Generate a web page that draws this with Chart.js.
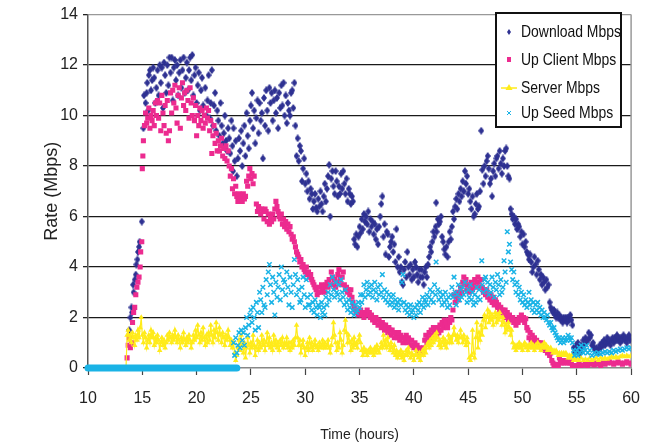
<!DOCTYPE html>
<html lang="en">
<head>
    <meta charset="UTF-8">
    <title>Rate over time</title>
    <style>
        body { margin: 0; background: #fff; }
        #wrap { width: 654px; height: 446px; }
    </style>
    <script src="https://cdn.jsdelivr.net/npm/chart.js"></script>
</head>
<body>
<div id="wrap"><canvas id="rateChart" width="654" height="446"></canvas></div>
<script>
    // tick labels
    const xTickValues = [10, 15, 20, 25, 30, 35, 40, 45, 50, 55, 60];
    const yTickValues = [0, 2, 4, 6, 8, 10, 12, 14];

    // [time (hours), rate (Mbps)]
    const download = [
        [13.8,1.5],[13.9,2.0],[14.0,2.4],[14.05,2.2],[14.15,3.3],[14.2,3.0],[14.3,3.5],[14.4,3.7],[14.45,4.1],[14.55,4.3],[14.6,4.6],[14.7,4.8],[14.75,5.0],[14.95,5.8],
        [15.1,9.5],[15.15,10.8],[15.3,10.5],[15.4,10.9],[15.45,11.3],[15.55,10.2],[15.6,11.6],[15.7,11.8],[15.8,11.0],[15.9,11.4],[16.0,11.9],[16.1,11.5],[16.2,10.5],[16.3,11.1],[16.4,11.8],[16.5,10.8],[16.6,12.0],[16.7,11.3],[16.8,11.9],[16.9,10.3],
        [17.0,12.1],[17.1,11.6],[17.2,10.9],[17.3,12.0],[17.4,11.2],[17.5,12.3],[17.6,11.7],[17.7,12.3],[17.8,10.6],[17.9,11.9],[18.0,12.2],[18.1,11.4],[18.2,12.0],[18.3,10.8],[18.4,11.7],[18.5,12.2],[18.6,11.1],[18.7,11.8],[18.8,12.3],[18.9,10.9],
        [19.0,11.5],[19.1,12.1],[19.2,11.0],[19.3,11.8],[19.4,12.3],[19.5,11.4],[19.6,12.4],[19.7,10.8],[19.8,11.6],[19.9,11.9],[20.0,10.5],[20.1,11.2],[20.2,11.7],[20.3,10.2],[20.4,11.0],[20.5,11.5],[20.6,10.4],[20.8,11.1],[20.9,10.0],
        [21.0,10.6],[21.1,11.6],[21.2,9.9],[21.3,10.5],[21.4,11.8],[21.5,9.6],[21.6,10.4],[21.7,10.9],[21.8,9.4],[21.9,10.2],[22.0,9.8],[22.1,9.2],[22.2,10.5],[22.3,9.6],[22.4,8.9],[22.5,9.3],[22.6,10.0],[22.7,9.0],[22.8,8.6],[22.9,9.5],
        [23.0,9.1],[23.1,8.5],[23.2,9.8],[23.3,8.8],[23.35,7.8],[23.4,9.5],[23.5,8.2],[23.6,9.0],[23.7,7.6],[23.8,8.3],[23.9,9.1],[24.0,8.6],[24.1,9.4],[24.2,8.0],[24.3,8.9],[24.4,9.6],[24.5,8.4],[24.6,10.1],[24.7,9.2],[24.8,8.7],[24.9,9.8],
        [25.0,10.4],[25.1,10.9],[25.2,9.5],[25.3,10.2],[25.4,8.9],[25.5,9.9],[25.6,10.6],[25.7,9.3],[25.8,10.5],[25.9,9.8],[26.0,10.1],[26.1,8.3],[26.2,10.7],[26.3,9.6],[26.4,11.0],[26.5,10.2],[26.6,9.4],[26.7,11.1],[26.8,10.5],[26.9,10.9],
        [27.0,9.8],[27.1,10.6],[27.2,11.0],[27.3,10.1],[27.4,10.7],[27.5,9.5],[27.6,10.9],[27.7,10.3],[27.8,11.2],[27.9,10.4],[28.0,11.3],[28.1,10.0],[28.2,10.8],[28.3,9.7],[28.4,10.5],[28.5,10.2],[28.6,10.0],[28.7,10.9],[28.8,11.0],[28.9,10.3],
        [29.0,11.3],[29.1,9.6],[29.2,8.4],[29.3,9.1],[29.4,8.2],[29.5,8.8],[29.6,8.6],[29.7,7.4],[29.8,7.9],[29.9,8.3],[30.0,7.3],[30.1,7.7],[30.2,7.0],[30.3,7.4],[30.4,6.7],[30.5,7.1],[30.6,6.9],[30.7,6.3],[30.8,6.6],[30.9,6.9],
        [31.0,6.35],[31.1,6.2],[31.2,6.7],[31.3,6.4],[31.4,7.0],[31.5,6.5],[31.6,6.2],[31.7,6.8],[31.8,7.3],[31.9,6.6],[32.0,7.1],[32.1,7.6],[32.2,8.05],[32.3,6.0],[32.4,7.5],[32.5,7.8],[32.6,7.2],[32.7,6.9],[32.8,7.8],[32.9,7.4],
        [33.0,6.8],[33.1,7.2],[33.2,6.9],[33.3,7.7],[33.4,7.1],[33.5,7.8],[33.6,7.3],[33.7,6.9],[33.8,7.5],[33.9,6.6],[34.0,7.1],[34.1,6.9],[34.2,6.5],[34.3,6.8],[34.4,6.6],[34.5,5.1],[34.6,4.9],[34.7,5.3],[34.8,4.8],[34.9,5.2],
        [35.0,5.6],[35.1,5.35],[35.2,5.9],[35.3,5.5],[35.4,6.1],[35.5,5.8],[35.6,6.0],[35.7,5.7],[35.8,6.2],[35.9,5.4],[36.0,5.9],[36.1,5.6],[36.2,5.8],[36.3,5.3],[36.4,5.7],[36.5,5.1],[36.6,5.5],[36.7,4.9],[36.8,5.6],[36.9,6.0],
        [37.0,6.5],[37.1,6.8],[37.2,5.2],[37.3,5.7],[37.4,4.5],[37.5,5.4],[37.6,5.3],[37.7,4.4],[37.8,4.8],[37.9,5.0],[38.0,5.2],[38.1,4.6],[38.2,4.9],[38.3,4.2],[38.4,5.5],[38.5,4.0],[38.6,4.4],[38.7,3.8],[38.8,4.0],[38.9,3.4],
        [39.0,3.3],[39.1,3.9],[39.2,4.2],[39.3,3.6],[39.4,4.6],[39.5,4.0],[39.6,3.7],[39.7,4.1],[39.8,3.5],[39.9,3.9],[40.0,3.6],[40.1,4.2],[40.2,4.0],[40.3,3.7],[40.4,3.4],[40.5,3.9],[40.6,3.6],[40.7,3.9],[40.8,3.6],[40.9,3.3],
        [41.0,3.8],[41.1,4.0],[41.2,3.6],[41.3,4.1],[41.4,4.4],[41.5,4.8],[41.6,4.6],[41.7,5.0],[41.8,5.4],[41.9,5.2],[42.0,5.6],[42.05,6.55],[42.1,5.4],[42.2,5.9],[42.3,5.7],[42.4,5.8],[42.5,6.0],[42.6,5.2],[42.7,5.0],[42.8,4.7],[42.9,4.5],
        [43.0,4.8],[43.1,4.4],[43.2,5.0],[43.3,5.4],[43.4,5.1],[43.5,5.6],[43.6,6.2],[43.7,5.9],[43.8,6.4],[43.9,6.7],[44.0,6.3],[44.1,6.9],[44.2,6.6],[44.3,7.1],[44.4,6.8],[44.5,7.4],[44.6,7.0],[44.7,7.8],[44.8,7.3],[44.9,7.6],
        [45.0,6.9],[45.1,7.1],[45.2,6.6],[45.3,6.3],[45.4,6.8],[45.5,6.0],[45.6,6.1],[45.7,6.5],[45.8,6.9],[45.9,6.3],[46.0,6.4],[46.1,7.0],[46.2,9.4],[46.3,7.85],[46.4,7.3],[46.5,8.0],[46.6,7.6],[46.7,8.2],[46.8,8.4],[46.9,7.9],
        [47.0,7.3],[47.1,7.5],[47.2,6.8],[47.3,7.8],[47.4,8.1],[47.5,7.6],[47.6,8.3],[47.7,8.4],[47.8,7.9],[47.9,8.6],[48.0,8.1],[48.1,7.7],[48.2,8.3],[48.3,8.0],[48.4,8.6],[48.5,8.7],[48.6,8.0],[48.7,7.6],[48.8,7.5],[48.9,6.3],
        [49.0,6.1],[49.1,5.9],[49.2,6.0],[49.3,5.7],[49.4,5.9],[49.5,5.5],[49.6,5.7],[49.7,5.6],[49.8,5.2],[49.9,5.4],[50.0,4.9],[50.1,5.3],[50.2,4.8],[50.3,5.0],[50.4,4.6],[50.5,4.5],[50.6,4.3],[50.7,4.5],[50.8,4.2],[50.9,3.8],
        [51.0,4.0],[51.1,4.4],[51.2,4.1],[51.3,3.7],[51.4,4.25],[51.5,3.9],[51.6,3.5],[51.7,3.7],[51.8,3.3],[51.9,3.6],[52.0,3.4],[52.1,3.1],[52.2,3.5],[52.3,3.2],[52.4,3.3],[52.5,2.6],[52.6,2.4],[52.7,2.3],[52.8,2.2],[52.9,2.3],
        [53.0,2.1],[53.1,2.0],[53.2,2.2],[53.3,2.0],[53.4,2.1],[53.5,1.9],[53.6,2.0],[53.7,1.8],[53.8,2.0],[53.9,1.9],[54.0,2.0],[54.1,1.8],[54.2,2.0],[54.3,1.9],[54.4,2.1],[54.5,1.9],[54.6,1.7],[54.7,0.8],[54.8,0.6],[54.9,0.9],
        [55.0,0.7],[55.1,1.0],[55.2,0.8],[55.3,0.6],[55.4,0.9],[55.5,0.8],[55.6,1.1],[55.7,0.9],[55.8,1.2],[55.9,1.0],[56.0,1.1],[56.1,1.4],[56.2,1.2],[56.3,1.3],[56.4,0.9],[56.5,1.0],[56.6,0.8],[56.7,0.7],[56.8,0.8],[56.9,0.6],
        [57.0,0.7],[57.1,0.9],[57.2,0.8],[57.3,1.0],[57.4,0.9],[57.5,1.1],[57.6,0.9],[57.7,1.0],[57.8,1.2],[57.9,1.0],[58.0,1.1],[58.1,0.9],[58.2,1.1],[58.3,1.2],[58.4,1.0],[58.5,1.2],[58.6,1.1],[58.7,1.3],[58.8,1.1],[58.9,1.2],
        [59.0,1.0],[59.1,1.2],[59.2,1.1],[59.3,1.3],[59.4,1.1],[59.5,1.2],[59.6,1.0],[59.7,1.2],[59.8,1.3],[59.9,1.1],[60.0,1.2]
    ];

    const upClient = [
        [13.6,0.4],[13.7,0.9],[13.8,1.2],[13.9,0.8],[14.0,1.0],[14.1,1.8],[14.2,2.2],[14.3,2.4],[14.4,2.9],[14.5,3.2],[14.6,3.4],[14.7,3.6],[14.8,4.0],[14.85,4.6],[14.95,5.0],
        [15.0,7.9],[15.05,8.4],[15.1,9.0],[15.2,9.6],[15.3,10.1],[15.4,9.7],[15.5,9.9],[15.6,10.3],[15.7,9.5],[15.8,10.0],[15.9,9.8],[16.0,10.2],[16.1,9.6],[16.2,10.5],[16.3,10.0],[16.4,10.6],[16.5,9.9],[16.6,10.5],[16.7,9.4],[16.8,10.8],[16.9,10.1],
        [17.0,9.6],[17.1,10.4],[17.2,9.3],[17.3,10.6],[17.4,9.0],[17.5,9.4],[17.6,10.9],[17.7,10.1],[17.8,11.0],[17.9,10.5],[18.0,11.2],[18.1,10.3],[18.2,9.7],[18.3,10.8],[18.4,11.1],[18.5,9.5],[18.6,10.7],[18.7,11.3],[18.8,10.4],[18.9,10.9],
        [19.0,10.2],[19.1,11.0],[19.2,10.6],[19.3,9.9],[19.4,11.1],[19.5,10.5],[19.6,10.0],[19.7,10.7],[19.8,9.8],[19.9,10.4],[20.0,9.2],[20.1,10.0],[20.2,9.6],[20.3,10.3],[20.4,9.8],[20.5,10.2],[20.6,9.5],[20.7,10.0],[20.8,9.7],[20.9,10.3],
        [21.0,9.9],[21.1,10.2],[21.2,9.4],[21.3,9.8],[21.4,8.5],[21.5,9.2],[21.6,9.6],[21.7,8.9],[21.8,9.3],[21.9,8.6],[22.0,9.0],[22.1,8.6],[22.2,8.8],[22.3,9.1],[22.4,8.4],[22.5,8.7],[22.6,8.3],[22.7,8.8],[22.8,8.2],[22.9,8.6],
        [23.0,8.0],[23.1,7.6],[23.2,7.9],[23.3,7.1],[23.4,7.5],[23.5,6.9],[23.6,7.2],[23.7,6.8],[23.8,6.6],[23.9,6.9],[24.0,6.7],[24.1,6.8],[24.2,6.6],[24.3,6.9],[24.4,6.7],[24.5,6.8],[24.6,7.4],[24.7,7.2],[24.8,7.6],[24.9,7.9],
        [25.0,7.5],[25.1,7.7],[25.2,7.3],[25.3,7.6],[25.5,6.5],[25.6,6.2],[25.7,6.4],[25.8,6.3],[25.9,6.1],[26.0,6.3],[26.1,6.2],[26.2,5.9],[26.3,6.3],[26.4,6.2],[26.5,5.8],[26.6,6.1],[26.7,5.7],[26.8,6.0],[26.9,5.8],
        [27.0,6.1],[27.1,5.9],[27.2,6.3],[27.3,6.6],[27.4,6.4],[27.5,6.2],[27.6,6.0],[27.7,5.9],[27.8,6.1],[27.9,5.7],[28.0,5.9],[28.1,5.6],[28.2,5.8],[28.3,5.5],[28.4,5.7],[28.5,5.4],[28.6,5.6],[28.7,5.3],[28.8,5.1],[28.9,5.2],
        [29.0,5.0],[29.1,4.8],[29.2,4.6],[29.3,4.5],[29.4,4.4],[29.5,4.2],[29.6,4.3],[29.7,4.0],[29.8,4.1],[29.9,3.9],[30.0,3.8],[30.1,4.0],[30.2,3.7],[30.3,3.8],[30.4,3.6],[30.5,3.7],[30.6,3.5],[30.7,3.4],[30.8,3.3],[30.9,3.2],
        [31.0,3.1],[31.1,2.9],[31.2,3.0],[31.3,3.2],[31.4,3.0],[31.5,3.3],[31.6,3.1],[31.7,3.2],[31.8,3.0],[31.9,3.3],[32.0,3.4],[32.1,3.2],[32.2,3.5],[32.3,3.3],[32.4,3.8],[32.5,3.6],[32.6,3.3],[32.7,3.5],[32.8,3.2],[32.9,3.4],
        [33.0,3.7],[33.1,3.9],[33.2,3.5],[33.3,3.3],[33.4,3.6],[33.5,3.8],[33.6,3.3],[33.7,3.1],[33.8,3.2],[33.9,3.0],[34.0,3.1],[34.1,2.9],[34.2,3.1],[34.3,2.8],[34.4,2.6],[34.5,2.4],[34.6,2.3],[34.7,2.2],[34.8,2.3],[34.9,2.1],
        [35.0,2.2],[35.1,2.3],[35.2,2.1],[35.3,2.2],[35.4,2.0],[35.5,2.2],[35.6,2.1],[35.7,2.3],[35.8,2.1],[35.9,2.2],[36.0,2.0],[36.1,2.1],[36.2,1.9],[36.3,2.0],[36.4,1.8],[36.5,2.0],[36.6,1.9],[36.7,1.7],[36.8,1.9],[36.9,1.8],
        [37.0,1.6],[37.1,1.8],[37.2,1.7],[37.3,1.5],[37.4,1.7],[37.5,1.6],[37.6,1.4],[37.7,1.6],[37.8,1.5],[37.9,1.3],[38.0,1.5],[38.1,1.4],[38.2,1.2],[38.3,1.4],[38.4,1.3],[38.5,1.2],[38.6,1.4],[38.7,1.1],[38.8,1.3],[38.9,1.2],
        [39.0,1.0],[39.1,1.2],[39.2,1.1],[39.3,1.3],[39.4,1.0],[39.5,1.2],[39.6,1.1],[39.7,0.9],[39.8,1.1],[39.9,0.9],[40.0,0.8],[40.1,1.0],[40.2,0.8],[40.3,0.9],[40.4,0.7],[40.5,0.8],[40.6,0.6],[40.7,0.7],[40.8,0.6],[40.9,0.8],
        [41.0,1.1],[41.1,1.3],[41.2,1.0],[41.3,1.2],[41.4,1.4],[41.5,1.2],[41.6,1.5],[41.7,1.3],[41.8,1.6],[41.9,1.4],[42.0,1.5],[42.1,1.3],[42.2,1.6],[42.3,1.4],[42.4,1.7],[42.5,1.5],[42.6,1.8],[42.7,1.6],[42.8,1.9],[42.9,1.7],
        [43.0,1.8],[43.1,1.6],[43.2,1.9],[43.3,1.8],[43.4,2.0],[43.5,1.9],[43.6,2.3],[43.7,2.9],[43.8,2.6],[43.9,2.8],[44.0,3.0],[44.1,2.7],[44.2,2.9],[44.3,3.2],[44.4,3.0],[44.5,3.4],[44.6,3.6],[44.7,3.3],[44.8,3.5],[44.9,3.1],
        [45.0,3.3],[45.1,3.0],[45.2,3.2],[45.3,3.4],[45.4,3.1],[45.5,3.3],[45.6,3.5],[45.7,3.2],[45.8,3.4],[45.9,3.6],[46.0,3.4],[46.1,3.2],[46.2,3.5],[46.3,3.2],[46.4,3.0],[46.5,3.1],[46.6,2.9],[46.7,3.1],[46.8,2.8],[46.9,2.9],
        [47.0,2.7],[47.1,2.9],[47.2,2.6],[47.3,2.8],[47.4,2.5],[47.5,2.7],[47.6,2.6],[47.7,2.4],[47.8,2.5],[47.9,2.3],[48.0,2.4],[48.1,2.2],[48.2,2.3],[48.3,2.1],[48.4,2.3],[48.5,2.0],[48.6,2.2],[48.7,1.9],[48.8,2.1],[48.9,2.0],
        [49.0,1.9],[49.1,2.0],[49.2,1.8],[49.3,1.9],[49.4,1.7],[49.5,1.9],[49.6,1.8],[49.7,2.0],[49.8,1.9],[49.9,2.1],[50.0,1.9],[50.1,2.0],[50.2,1.8],[50.3,1.95],[50.4,1.6],[50.5,1.5],[50.6,1.2],[50.7,1.4],[50.8,1.1],[50.9,1.3],
        [51.0,1.0],[51.1,1.2],[51.2,1.0],[51.3,1.1],[51.4,0.9],[51.5,1.0],[51.6,0.9],[51.7,1.0],[51.8,0.8],[51.9,0.9],[52.0,0.8],[52.1,0.7],[52.2,0.8],[52.3,0.6],[52.4,0.7],[52.5,0.5],[52.6,0.6],[52.7,0.3],[52.8,0.2],[52.9,0.1],
        [53.0,0.1],[53.1,0.05],[53.2,0.15],[53.3,0.1],[53.4,0.4],[53.5,0.3],[53.6,0.2],[53.7,0.3],[53.8,0.2],[53.9,0.3],[54.0,0.25],[54.1,0.2],[54.2,0.3],[54.3,0.2],[54.4,0.3],[54.5,0.2],[54.6,0.05],[54.7,0.1],[54.8,0.05],
        [55.0,0.1],[55.2,0.15],[55.4,0.1],[55.6,0.12],[55.8,0.15],[56.0,0.1],[56.2,0.2],[56.4,0.15],[56.6,0.12],[56.8,0.2],[57.0,0.15],[57.2,0.1],[57.4,0.2],[57.6,0.15],[57.8,0.2],
        [58.0,0.25],[58.2,0.2],[58.4,0.15],[58.6,0.2],[58.8,0.25],[59.0,0.2],[59.2,0.15],[59.4,0.2],[59.6,0.25],[59.8,0.2],[60.0,0.15]
    ];

    const server = [
        [10.0,0],[13.5,0],[13.6,1.3],[13.7,1.5],[13.8,1.1],[13.9,1.3],[14.0,1.0],[14.1,1.4],[14.2,1.2],[14.3,0.9],[14.4,1.3],[14.5,1.1],[14.6,1.5],[14.7,1.2],[14.8,1.6],[14.9,2.0],
        [15.0,1.3],[15.1,1.0],[15.2,1.4],[15.3,1.2],[15.4,0.8],[15.5,1.1],[15.6,1.3],[15.7,1.0],[15.8,1.5],[15.9,1.2],[16.0,1.4],[16.1,0.9],[16.2,1.2],[16.3,1.0],[16.4,1.3],[16.5,1.1],[16.6,0.7],[16.7,1.0],[16.8,1.2],[16.9,0.9],
        [17.0,1.1],[17.1,0.8],[17.2,1.0],[17.3,1.3],[17.4,1.1],[17.5,1.4],[17.6,1.2],[17.7,1.0],[17.8,1.3],[17.9,1.1],[18.0,1.5],[18.1,1.2],[18.2,1.0],[18.3,1.3],[18.4,1.1],[18.5,0.8],[18.6,1.2],[18.7,1.0],[18.8,1.4],[18.9,1.1],
        [19.0,0.9],[19.1,1.2],[19.2,1.0],[19.3,1.3],[19.4,1.1],[19.5,0.8],[19.6,1.0],[19.7,1.3],[19.8,1.1],[19.9,1.5],[20.0,1.2],[20.1,1.7],[20.2,1.3],[20.3,1.0],[20.4,1.4],[20.5,1.1],[20.6,1.6],[20.7,1.2],[20.8,0.9],[20.9,1.3],
        [21.0,1.0],[21.1,1.4],[21.2,1.1],[21.3,1.7],[21.4,1.3],[21.5,1.0],[21.6,1.5],[21.7,1.2],[21.8,1.8],[21.9,1.4],[22.0,1.1],[22.1,1.6],[22.2,1.3],[22.3,1.0],[22.4,1.4],[22.5,1.2],[22.6,0.9],[22.7,1.3],[22.8,1.1],[22.9,1.5],
        [23.0,1.2],[23.1,0.9],[23.2,1.1],[23.3,0.8],[23.4,1.0],[23.5,0.6],[23.6,0.3],[23.7,0.5],[23.8,0.8],[23.9,1.1],[24.0,0.7],[24.1,1.3],[24.2,0.9],[24.3,0.6],[24.4,1.0],[24.5,0.4],[24.6,0.8],[24.7,1.2],[24.8,0.9],[24.9,0.6],
        [25.0,1.0],[25.1,0.8],[25.2,1.3],[25.3,0.9],[25.4,0.5],[25.5,0.8],[25.6,1.1],[25.7,0.7],[25.8,1.0],[25.9,0.8],[26.0,1.3],[26.1,0.9],[26.2,1.1],[26.3,0.7],[26.4,1.0],[26.5,1.4],[26.6,0.9],[26.7,1.2],[26.8,0.8],[26.9,1.0],
        [27.0,0.7],[27.1,1.3],[27.2,0.9],[27.3,1.1],[27.4,0.8],[27.5,1.0],[27.6,0.7],[27.7,1.1],[27.8,0.9],[27.9,1.2],[28.0,0.8],[28.1,1.0],[28.2,0.9],[28.3,1.2],[28.4,0.8],[28.5,1.0],[28.6,0.7],[28.7,1.0],[28.8,0.8],[28.9,1.1],
        [29.0,0.9],[29.1,1.2],[29.2,1.7],[29.3,1.2],[29.4,0.9],[29.5,1.1],[29.6,0.6],[29.7,0.9],[29.8,1.1],[29.9,0.8],[30.0,0.5],[30.1,0.8],[30.2,1.0],[30.3,0.7],[30.4,1.2],[30.5,0.8],[30.6,1.0],[30.7,0.7],[30.8,0.9],[30.9,1.1],
        [31.0,0.8],[31.1,0.9],[31.2,0.7],[31.3,1.0],[31.4,0.8],[31.5,0.9],[31.6,1.1],[31.7,0.8],[31.8,1.0],[31.9,0.8],[32.0,0.9],[32.1,1.1],[32.2,0.8],[32.3,0.6],[32.4,0.9],[32.5,1.2],[32.6,1.8],[32.7,1.3],[32.8,1.0],[32.9,0.7],
        [33.0,1.0],[33.1,0.8],[33.2,1.4],[33.3,1.1],[33.4,0.6],[33.5,0.9],[33.6,1.5],[33.7,1.9],[33.8,1.4],[33.9,1.0],[34.0,1.3],[34.1,1.0],[34.2,0.7],[34.3,1.1],[34.4,0.8],[34.5,1.2],[34.6,0.9],[34.7,1.0],[34.8,0.8],[34.9,1.1],
        [35.0,1.3],[35.1,1.0],[35.2,0.7],[35.3,0.5],[35.4,0.8],[35.5,0.6],[35.6,0.7],[35.7,0.5],[35.8,0.7],[35.9,0.6],[36.0,0.8],[36.1,0.6],[36.2,0.7],[36.3,0.5],[36.4,0.8],[36.5,0.6],[36.6,0.9],[36.7,0.7],[36.8,0.6],[36.9,0.8],
        [37.0,1.0],[37.1,0.8],[37.2,1.3],[37.3,0.9],[37.4,1.1],[37.5,0.8],[37.6,1.2],[37.7,0.9],[37.8,0.7],[37.9,1.0],[38.0,0.8],[38.1,0.6],[38.2,0.9],[38.3,0.5],[38.4,0.7],[38.5,0.4],[38.6,0.6],[38.7,0.5],[38.8,0.7],[38.9,0.4],
        [39.0,0.6],[39.1,0.3],[39.2,0.5],[39.3,0.7],[39.4,0.5],[39.5,0.8],[39.6,0.6],[39.7,0.4],[39.8,0.6],[39.9,0.5],[40.0,0.3],[40.1,0.5],[40.2,0.7],[40.3,0.5],[40.4,0.4],[40.5,0.6],[40.6,0.3],[40.7,0.5],[40.8,0.7],[40.9,0.5],
        [41.0,0.8],[41.1,0.6],[41.2,0.9],[41.3,1.0],[41.4,0.8],[41.5,1.1],[41.6,0.9],[41.7,1.2],[41.8,1.0],[41.9,1.3],[42.0,1.1],[42.1,1.4],[42.2,1.2],[42.3,0.9],[42.4,1.1],[42.5,0.8],[42.6,1.0],[42.7,1.2],[42.8,0.9],[42.9,1.1],
        [43.0,0.8],[43.1,1.0],[43.2,1.3],[43.3,1.0],[43.4,1.2],[43.5,1.0],[43.6,1.3],[43.7,1.6],[43.8,1.3],[43.9,1.1],[44.0,1.3],[44.1,1.0],[44.2,1.2],[44.3,1.5],[44.4,1.2],[44.5,1.0],[44.6,1.3],[44.7,1.1],[44.8,0.9],[44.9,1.2],
        [45.0,1.0],[45.1,0.4],[45.2,0.3],[45.3,0.5],[45.4,1.5],[45.5,0.6],[45.6,0.4],[45.7,1.2],[45.8,1.8],[45.9,0.8],[46.0,1.4],[46.1,1.1],[46.2,1.7],[46.3,1.3],[46.4,1.9],[46.5,2.1],[46.6,1.6],[46.7,2.0],[46.8,2.3],[46.9,1.8],
        [47.0,2.2],[47.1,1.9],[47.2,2.1],[47.3,1.7],[47.4,2.0],[47.5,2.2],[47.6,1.8],[47.7,2.1],[47.8,1.9],[47.9,2.2],[48.0,2.0],[48.1,1.7],[48.2,2.0],[48.3,1.8],[48.4,1.4],[48.5,1.7],[48.6,1.5],[48.7,1.8],[48.8,1.6],[48.9,1.3],
        [49.0,1.5],[49.1,1.0],[49.2,0.8],[49.3,0.9],[49.4,0.7],[49.5,0.9],[49.6,0.8],[49.7,1.0],[49.8,0.8],[49.9,0.9],[50.0,0.7],[50.1,0.9],[50.2,1.0],[50.3,0.8],[50.4,0.9],[50.5,0.7],[50.6,0.9],[50.7,0.8],[50.8,1.0],[50.9,0.8],
        [51.0,0.9],[51.1,0.7],[51.2,0.9],[51.3,0.8],[51.4,1.0],[51.5,0.8],[51.6,0.9],[51.7,0.7],[51.8,0.9],[51.9,0.8],[52.0,1.0],[52.1,0.8],[52.2,0.9],[52.3,0.7],[52.4,0.8],[52.5,0.7],[52.6,0.8],[52.7,0.7],[52.8,0.6],[52.9,0.7],
        [53.0,0.6],[53.1,0.7],[53.2,0.6],[53.3,0.5],[53.4,0.6],[53.5,0.5],[53.6,0.6],[53.7,0.5],[53.8,0.6],[53.9,0.5],[54.0,0.6],[54.1,0.5],[54.2,0.4],[54.3,0.5],[54.4,0.4],[54.5,0.5],[54.6,0.4],[54.7,0.3],[54.8,0.4],[54.9,0.3],
        [55.0,0.4],[55.2,0.3],[55.4,0.4],[55.6,0.3],[55.8,0.35],[56.0,0.3],[56.2,0.4],[56.4,0.3],[56.6,0.35],[56.8,0.4],[57.0,0.3],[57.2,0.4],[57.4,0.35],[57.6,0.4],[57.8,0.35],
        [58.0,0.4],[58.2,0.45],[58.4,0.4],[58.6,0.45],[58.8,0.4],[59.0,0.45],[59.2,0.5],[59.4,0.45],[59.6,0.5],[59.8,0.45],[60.0,0.5]
    ];

    // seed upload sits at zero until ~23.7 h
    const upSeedIdle = [[10.0,0],[23.7,0]];
    const upSeed = [
        [23.4,1.0],[23.5,0.5],[23.6,1.2],[23.7,0.6],[23.8,0.9],[23.9,1.4],[24.0,0.8],[24.1,1.5],[24.2,1.1],[24.3,1.4],[24.4,0.9],[24.5,1.6],[24.6,2.0],[24.7,1.3],[24.8,1.7],[24.9,2.1],
        [25.0,2.3],[25.1,1.8],[25.2,2.4],[25.3,2.0],[25.4,1.5],[25.5,2.6],[25.6,2.2],[25.7,1.6],[25.8,3.0],[25.9,2.7],[26.0,2.2],[26.1,3.2],[26.2,2.5],[26.3,2.4],[26.4,3.5],[26.5,2.9],[26.6,3.8],[26.7,4.1],[26.8,3.3],[26.9,2.6],
        [27.0,3.6],[27.1,3.0],[27.2,2.1],[27.3,3.4],[27.4,2.8],[27.5,3.2],[27.6,3.7],[27.7,2.7],[27.8,4.0],[27.9,3.1],[28.0,3.5],[28.1,3.4],[28.2,2.9],[28.3,3.8],[28.4,3.2],[28.5,2.5],[28.6,3.6],[28.7,3.0],[28.8,2.4],[28.9,3.3],
        [29.0,4.3],[29.1,3.7],[29.2,2.9],[29.3,3.5],[29.4,3.1],[29.5,2.6],[29.6,2.7],[29.7,3.2],[29.8,3.6],[29.9,2.9],[30.0,2.4],[30.1,3.5],[30.2,2.8],[30.3,2.5],[30.4,2.5],[30.5,2.9],[30.6,2.3],[30.7,2.6],[30.8,2.2],[30.9,2.7],
        [31.0,2.4],[31.1,2.1],[31.2,2.5],[31.3,2.4],[31.4,2.0],[31.5,2.6],[31.6,2.2],[31.7,2.4],[31.8,2.1],[31.9,2.8],[32.0,2.5],[32.1,3.0],[32.2,2.7],[32.3,3.3],[32.4,2.9],[32.5,3.6],[32.6,3.1],[32.7,2.8],[32.8,3.4],[32.9,3.0],
        [33.0,2.9],[33.1,3.3],[33.2,2.7],[33.3,3.5],[33.4,3.0],[33.5,2.8],[33.6,2.5],[33.7,3.1],[33.8,2.6],[33.9,2.3],[34.0,2.7],[34.1,2.4],[34.2,2.2],[34.3,2.6],[34.4,2.3],[34.5,2.1],[34.6,2.5],[34.7,2.2],[34.8,2.3],[34.9,2.6],
        [35.0,2.4],[35.1,2.9],[35.2,2.6],[35.3,2.9],[35.4,3.3],[35.5,2.8],[35.6,3.1],[35.7,3.4],[35.8,2.9],[35.9,3.2],[36.0,3.0],[36.1,3.3],[36.2,2.8],[36.3,3.1],[36.4,3.4],[36.5,3.0],[36.6,2.7],[36.7,3.2],[36.8,2.9],[36.9,3.3],
        [37.0,3.0],[37.1,3.7],[37.2,2.8],[37.3,3.1],[37.4,2.7],[37.5,3.0],[37.6,2.6],[37.7,2.9],[37.8,2.5],[37.9,2.8],[38.0,2.6],[38.1,2.9],[38.2,2.4],[38.3,2.7],[38.4,2.5],[38.5,2.6],[38.6,2.3],[38.7,2.7],[38.8,2.5],[38.9,3.4],
        [39.0,3.7],[39.1,2.6],[39.2,2.3],[39.3,2.5],[39.4,2.2],[39.5,2.4],[39.6,2.1],[39.7,2.5],[39.8,2.2],[39.9,2.3],[40.0,2.0],[40.1,2.4],[40.2,2.1],[40.3,2.5],[40.4,2.3],[40.5,2.6],[40.6,2.2],[40.7,2.5],[40.8,2.8],[40.9,2.4],
        [41.0,2.7],[41.1,2.6],[41.2,2.9],[41.3,2.5],[41.4,2.8],[41.5,3.1],[41.6,2.7],[41.7,3.0],[41.8,2.6],[41.9,3.3],[42.0,2.9],[42.05,4.2],[42.2,3.1],[42.3,2.7],[42.4,3.0],[42.5,2.8],[42.6,2.5],[42.7,2.9],[42.8,2.6],[42.9,3.0],
        [43.0,2.7],[43.1,2.4],[43.2,2.8],[43.3,2.5],[43.4,2.9],[43.5,3.2],[43.6,2.8],[43.7,3.6],[43.8,3.0],[43.9,2.5],[44.0,2.9],[44.1,3.3],[44.2,2.7],[44.3,3.1],[44.4,2.8],[44.5,3.2],[44.6,2.9],[44.7,3.4],[44.8,3.0],[44.9,2.6],
        [45.0,3.1],[45.1,2.8],[45.2,3.3],[45.3,2.7],[45.4,3.0],[45.5,2.5],[45.6,2.9],[45.7,2.6],[45.8,3.2],[45.9,2.8],[46.0,3.1],[46.1,2.7],[46.25,4.25],[46.3,3.3],[46.4,3.0],[46.5,3.5],[46.6,3.6],[46.7,3.1],[46.8,3.4],[46.9,2.9],
        [47.0,3.3],[47.1,3.0],[47.2,3.6],[47.3,3.2],[47.4,2.8],[47.5,3.4],[47.6,3.1],[47.7,3.7],[47.8,3.3],[47.9,2.9],[48.0,3.5],[48.1,3.0],[48.2,3.2],[48.3,4.25],[48.4,3.8],[48.5,3.4],[48.6,5.4],[48.7,4.6],[48.8,4.9],[48.9,4.2],
        [49.0,3.9],[49.1,3.5],[49.2,3.8],[49.3,3.3],[49.4,3.0],[49.5,3.4],[49.6,2.9],[49.7,3.2],[49.8,2.7],[49.9,3.0],[50.0,2.6],[50.1,2.9],[50.2,2.5],[50.3,2.7],[50.4,2.4],[50.5,2.6],[50.6,3.0],[50.7,2.5],[50.8,2.7],[50.9,2.3],
        [51.0,2.6],[51.1,2.2],[51.2,2.5],[51.3,2.3],[51.4,2.6],[51.5,2.2],[51.6,2.4],[51.7,2.1],[51.8,2.3],[51.9,2.0],[52.0,2.2],[52.1,2.0],[52.2,1.9],[52.3,2.1],[52.4,1.8],[52.5,1.7],[52.6,1.8],[52.7,1.6],[52.8,1.5],[52.9,1.6],
        [53.0,1.4],[53.1,1.3],[53.2,1.2],[53.3,1.1],[53.4,1.2],[53.5,1.0],[53.6,1.1],[53.7,1.2],[53.8,1.0],[53.9,1.1],[54.0,1.2],[54.1,1.1],[54.2,1.3],[54.3,1.2],[54.4,1.1],[54.5,1.2],[54.6,1.0],[54.7,0.7],[54.8,0.5],[54.9,0.6],
        [55.0,0.7],[55.1,0.5],[55.2,0.8],[55.3,0.6],[55.4,0.9],[55.5,0.7],[55.6,0.6],[55.7,0.8],[55.8,0.7],[55.9,0.9],[56.0,0.6],[56.2,0.7],[56.4,0.5],[56.6,0.6],[56.8,0.55],[57.0,0.6],[57.2,0.55],[57.4,0.6],[57.6,0.65],[57.8,0.6],
        [58.0,0.65],[58.2,0.6],[58.4,0.7],[58.6,0.65],[58.8,0.7],[59.0,0.75],[59.2,0.7],[59.4,0.75],[59.6,0.8],[59.8,0.75],[60.0,0.8]
    ];

    const NAVY = '#2e3192', PINK = '#ec2b8f', YELLOW = '#ffeb1a', CYAN = '#1ab3e6';
    const SANS = "'Liberation Sans', Arial, sans-serif";

    function toXY(pts) {
        return pts.map(p => ({ x: p[0], y: p[1] }));
    }

    // tall excel-like diamond marker
    function makeDiamond(w, h, color) {
        const c = document.createElement('canvas');
        c.width = w; c.height = h;
        const g = c.getContext('2d');
        g.fillStyle = color;
        g.beginPath();
        g.moveTo(w / 2, 0); g.lineTo(w, h / 2); g.lineTo(w / 2, h); g.lineTo(0, h / 2);
        g.closePath(); g.fill();
        return c;
    }
    const diamond = makeDiamond(6, 8, NAVY);

    // legend box inside the plot + right frame line
    const boxLegend = {
        id: 'boxLegend',
        beforeDatasetsDraw(chart) {
            const { ctx, chartArea } = chart;
            ctx.save();
            ctx.strokeStyle = '#999';
            ctx.lineWidth = 1.5;
            ctx.beginPath();
            ctx.moveTo(chartArea.right, chartArea.top);
            ctx.lineTo(chartArea.right, chartArea.bottom);
            ctx.stroke();
            ctx.restore();
        },
        afterDraw(chart) {
            const ctx = chart.ctx;
            const x = 496, y = 13, w = 125, h = 114;
            ctx.save();
            ctx.fillStyle = '#fff';
            ctx.fillRect(x, y, w, h);
            ctx.strokeStyle = '#111';
            ctx.lineWidth = 2;
            ctx.strokeRect(x, y, w, h);
            ctx.textBaseline = 'middle';
            const rows = [32, 60, 88, 113];
            chart.data.datasets.filter(d => d.label).forEach((d, i) => {
                const cy = rows[i], mx = 509;
                if (i === 0) {
                    ctx.drawImage(makeDiamond(4, 6, NAVY), mx - 2, cy - 3);
                } else if (i === 1) {
                    ctx.fillStyle = PINK;
                    ctx.fillRect(mx - 2, cy - 3, 4, 5);
                } else if (i === 2) {
                    ctx.strokeStyle = YELLOW;
                    ctx.lineWidth = 1.5;
                    ctx.beginPath(); ctx.moveTo(mx - 8, cy); ctx.lineTo(mx + 8, cy); ctx.stroke();
                    ctx.fillStyle = YELLOW;
                    ctx.beginPath(); ctx.moveTo(mx, cy - 4); ctx.lineTo(mx + 3.5, cy + 2); ctx.lineTo(mx - 3.5, cy + 2); ctx.closePath(); ctx.fill();
                } else {
                    ctx.strokeStyle = CYAN;
                    ctx.lineWidth = 1;
                    ctx.beginPath();
                    ctx.moveTo(mx - 2, cy - 2); ctx.lineTo(mx + 2, cy + 2);
                    ctx.moveTo(mx + 2, cy - 2); ctx.lineTo(mx - 2, cy + 2);
                    ctx.stroke();
                }
                // condensed look like the original font
                ctx.save();
                ctx.translate(521, cy);
                ctx.scale(0.82, 1);
                ctx.font = '17px ' + SANS;
                ctx.fillStyle = '#111';
                ctx.fillText(d.label, 0, 0);
                ctx.restore();
            });
            ctx.restore();
        }
    };

    new Chart(document.getElementById('rateChart'), {
        type: 'scatter',
        data: {
            datasets: [
                { label: 'Download Mbps', data: toXY(download), pointStyle: diamond, backgroundColor: NAVY, borderColor: NAVY, order: 4 },
                { label: 'Up Client Mbps', data: toXY(upClient), pointStyle: 'rect', pointRadius: 3.6, backgroundColor: PINK, borderColor: PINK, borderWidth: 0, order: 3 },
                { label: 'Server Mbps', data: toXY(server), showLine: true, borderColor: YELLOW, borderWidth: 1.2, pointStyle: 'triangle', pointRadius: 3.2, pointBorderWidth: 0, backgroundColor: YELLOW, order: 2 },
                { label: 'Up Seed Mbps', data: toXY(upSeed), pointStyle: 'crossRot', pointRadius: 3.2, borderColor: CYAN, backgroundColor: CYAN, borderWidth: 1.5, order: 1 },
                { label: '', data: toXY(upSeedIdle), showLine: true, clip: false, borderColor: CYAN, borderWidth: 7, borderCapStyle: 'round', pointRadius: 0, order: 0 }
            ]
        },
        options: {
            responsive: false,
            animation: false,
            devicePixelRatio: 1,
            layout: { padding: { top: 9, right: 22, left: 0, bottom: 0 } },
            plugins: { legend: { display: false }, tooltip: { enabled: false } },
            scales: {
                x: {
                    type: 'linear',
                    min: 10, max: 60,
                    afterBuildTicks: axis => { axis.ticks = xTickValues.map(v => ({ value: v })); },
                    afterFit: axis => { axis.height = 78; },
                    grid: { drawOnChartArea: false, tickLength: 7, tickColor: '#444', tickWidth: 1.2 },
                    border: { color: '#888', width: 1.5 },
                    ticks: { color: '#222', padding: 14, font: { family: SANS, size: 16 } },
                    title: { display: true, text: 'Time (hours)', color: '#222', font: { family: SANS, size: 14 }, padding: { top: 0, bottom: 2 } }
                },
                y: {
                    min: 0, max: 14,
                    afterBuildTicks: axis => { axis.ticks = yTickValues.map(v => ({ value: v })); },
                    afterFit: axis => { axis.width = 88; },
                    grid: {
                        color: c => c.tick.value === 0 ? 'rgba(0,0,0,0)' : (c.tick.value === 14 ? '#999' : '#1a1a1a'),
                        lineWidth: 1.3,
                        tickLength: 5,
                        tickColor: '#222'
                    },
                    border: { color: '#555', width: 1.5 },
                    ticks: { color: '#222', padding: 5, font: { family: SANS, size: 16 } },
                    title: { display: true, text: 'Rate (Mbps)', color: '#222', font: { family: SANS, size: 18 }, padding: { top: 41, bottom: 0 } }
                }
            }
        },
        plugins: [boxLegend]
    });
</script>
</body>
</html>
